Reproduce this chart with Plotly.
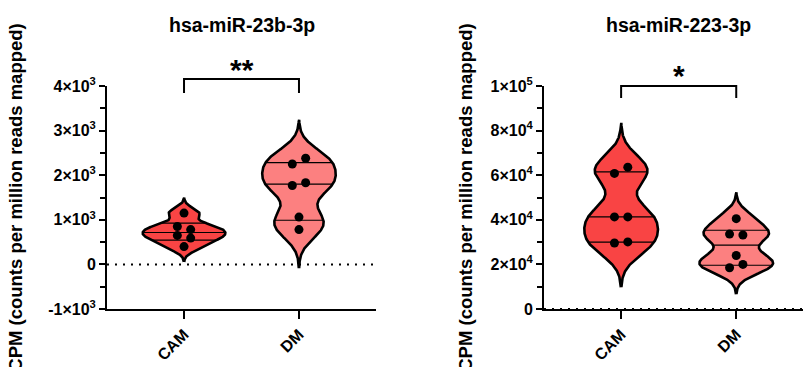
import numpy as np
import plotly.graph_objects as go

# ---------------- data ----------------
categories = ["CAM", "DM"]

mir23b_cam = [1150, 850, 780, 650, 590, 400]
mir23b_dm = [2250, 2380, 1770, 1830, 1060, 780]

mir223_cam = [60800, 63600, 41300, 41300, 29600, 30100]
mir223_dm = [40500, 33600, 33200, 24000, 18500, 20000]

mir23b_ticks = [-1000, 0, 1000, 2000, 3000, 4000]
mir23b_ticktext = ["-1×10<sup>3</sup>", "0", "1×10<sup>3</sup>", "2×10<sup>3</sup>",
                   "3×10<sup>3</sup>", "4×10<sup>3</sup>"]
mir223_ticks = [0, 20000, 40000, 60000, 80000, 100000]
mir223_ticktext = ["0", "2×10<sup>4</sup>", "4×10<sup>4</sup>", "6×10<sup>4</sup>",
                   "8×10<sup>4</sup>", "1×10<sup>5</sup>"]

titles = ["hsa-miR-23b-3p", "hsa-miR-223-3p"]
significance = ["**", "*"]
ytitle = "CPM (counts per million reads mapped)"

# ---------------- styling ----------------
W, H = 803, 367
FONT = "Arial, Liberation Sans, sans-serif"
fills = ["#F94444", "#FC8080"]
# horizontal dot arrangement (-1 left, 0 centre, 1 right)
dot_side = {
    ("a", 0): [0, -1, 1, -1, 1, 0],
    ("a", 1): [-1, 1, -1, 1, 0, 0],
    ("b", 0): [-1, 1, -1, 1, -1, 1],
    ("b", 1): [0, -1, 1, 0, -1, 1],
}
dot_dx = 0.058
halfwidths = {("a", 0): 0.36, ("a", 1): 0.32, ("b", 0): 0.32, ("b", 1): 0.32}
BW_K = 0.45     # bandwidth factor × sample std
EXT = 3.0       # tails extend EXT bandwidths


def violin_shape(vals, hw):
    v = np.asarray(vals, float)
    bw = BW_K * v.std(ddof=1)
    ys = np.linspace(v.min() - EXT * bw, v.max() + EXT * bw, 400)
    dens = np.exp(-0.5 * ((ys[:, None] - v[None, :]) / bw) ** 2).sum(axis=1)
    dens = dens / dens.max() * hw
    return ys, dens


fig = go.Figure()

panels = [
    ("a", "x", "y", [mir23b_cam, mir23b_dm]),
    ("b", "x2", "y2", [mir223_cam, mir223_dm]),
]

for key, xa, ya, groups in panels:
    for i, vals in enumerate(groups):
        hw = halfwidths[(key, i)]
        ys, half = violin_shape(vals, hw)
        xs = np.concatenate([i - half, (i + half)[::-1]])
        yy = np.concatenate([ys, ys[::-1]])
        fig.add_trace(go.Scatter(
            x=xs, y=yy, xaxis=xa, yaxis=ya, mode="lines", fill="toself",
            fillcolor=fills[i], line=dict(color="black", width=2.6),
            hoverinfo="skip", showlegend=False))
        # quartile lines
        q = np.percentile(np.asarray(vals, float), [25, 50, 75], method="weibull")
        qx, qy = [], []
        for qv in q:
            w = np.interp(qv, ys, half)
            qx += [i - w, i + w, None]
            qy += [qv, qv, None]
        fig.add_trace(go.Scatter(
            x=qx, y=qy, xaxis=xa, yaxis=ya, mode="lines",
            line=dict(color="black", width=1.2), hoverinfo="skip", showlegend=False))
        # points
        sides = dot_side[(key, i)]
        fig.add_trace(go.Scatter(
            x=[i + s * dot_dx for s in sides], y=vals, xaxis=xa, yaxis=ya,
            mode="markers", marker=dict(color="black", size=9),
            showlegend=False, cliponaxis=False))

# ---------------- layout ----------------
ydom = [1 - 309 / H, 1 - 86 / H]
axis_common = dict(showline=True, linecolor="black", linewidth=2, showgrid=False,
                   zeroline=False, ticks="outside", tickcolor="black", tickwidth=2,
                   color="black", automargin=False)
TICKFONT = dict(size=16, family=FONT, weight="bold", color="black")
YTFONT = dict(size=18.5, family=FONT, weight="bold", color="black")


def minor_vals(t):
    return [(t[k] + t[k + 1]) / 2 for k in range(len(t) - 1)]


fig.update_layout(
    width=W, height=H, margin=dict(l=0, r=0, t=0, b=0, autoexpand=False),
    paper_bgcolor="white", plot_bgcolor="white",
    font=dict(family=FONT, color="black"),
    xaxis=dict(domain=[107 / W, 376 / W], range=[-0.67, 1.67], tickmode="array",
               tickvals=[0, 1], ticktext=categories, tickangle=-45, ticklen=8,
               tickfont=TICKFONT, anchor="y", **axis_common),
    yaxis=dict(domain=ydom, range=[-1000, 4000], tickmode="array",
               tickvals=mir23b_ticks, ticktext=mir23b_ticktext, ticklen=6,
               tickfont=TICKFONT, anchor="x",
               minor=dict(tickmode="array", tickvals=minor_vals(mir23b_ticks),
                          ticks="outside", ticklen=5, tickwidth=2, tickcolor="black"),
               title=dict(text=ytitle, font=YTFONT, standoff=21),
               **axis_common),
    xaxis2=dict(domain=[544 / W, 1.0], range=[-0.67, 1.58], tickmode="array",
                tickvals=[0, 1], ticktext=categories, tickangle=-45, ticklen=8,
                tickfont=TICKFONT, anchor="y2", **axis_common),
    yaxis2=dict(domain=ydom, range=[0, 100000], tickmode="array",
                tickvals=mir223_ticks, ticktext=mir223_ticktext, ticklen=6,
                tickfont=TICKFONT, anchor="x2",
                minor=dict(tickmode="array", tickvals=minor_vals(mir223_ticks),
                           ticks="outside", ticklen=5, tickwidth=2, tickcolor="black"),
                title=dict(text=ytitle, font=YTFONT, standoff=13),
                **axis_common),
)

# dotted zero lines
for xd, yr in [("x domain", "y"), ("x2 domain", "y2")]:
    fig.add_shape(type="line", xref=xd, yref=yr, x0=0, x1=1, y0=0, y1=0,
                  line=dict(color="black", width=2, dash="2px,6px"), layer="above")

# significance brackets
brackets = [("x", 1 - 79 / H, 1 - 93 / H, 1 - 51 / H),
            ("x2", 1 - 86 / H, 1 - 98 / H, 1 - 57 / H)]
for (xr, ytop, yleg, ystar), sig, title in zip(brackets, significance, titles):
    fig.add_shape(type="path", xref=xr, yref="paper",
                  path=f"M 0,{yleg} L 0,{ytop} L 1,{ytop} L 1,{yleg}",
                  line=dict(color="black", width=2))
    fig.add_annotation(x=0.5, xref=xr, y=ystar, yref="paper", text=sig,
                       showarrow=False, font=dict(size=30, family=FONT, weight="bold"),
                       yanchor="top")
    fig.add_annotation(x=0.5, xref=xr, y=1 - 25 / H, yref="paper", text=title,
                       showarrow=False, font=dict(size=19.5, family=FONT, weight="bold"),
                       yanchor="middle")

fig.write_html("out.html", config={"displayModeBar": False},
               post_script="document.body.style.margin='0';")
